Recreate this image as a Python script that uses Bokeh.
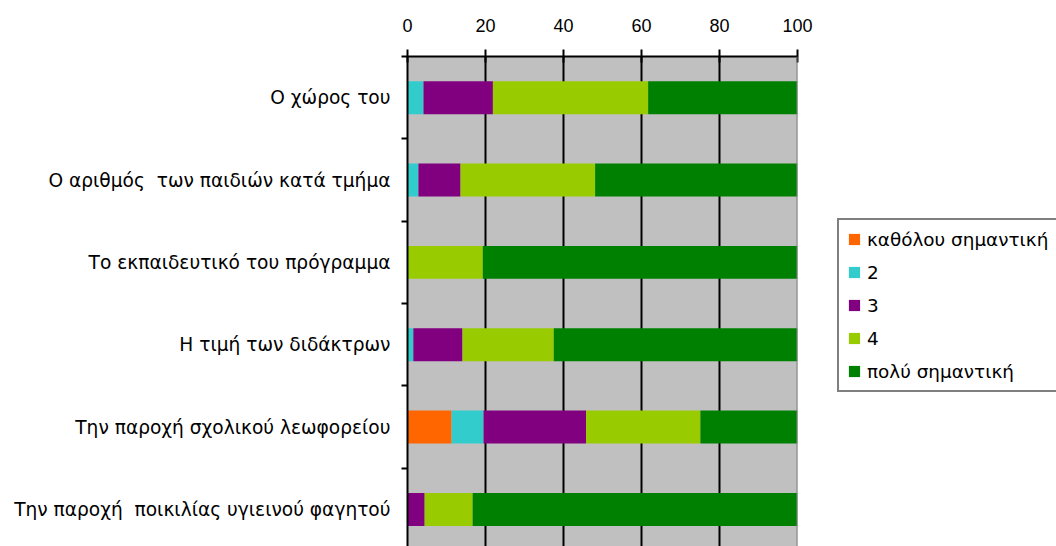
from bokeh.plotting import figure
from bokeh.layouts import row
from bokeh.models import ColumnDataSource, Range1d, FixedTicker, Legend, LegendItem, Span
from bokeh.embed import file_html
from bokeh.resources import INLINE

categories = ["Ο χώρος του",
              "Ο αριθμός \u00a0των παιδιών κατά τμήμα",
              "Το εκπαιδευτικό του πρόγραμμα",
              "Η τιμή των διδάκτρων",
              "Την παροχή σχολικού λεωφορείου",
              "Την παροχή \u00a0ποικιλίας υγιεινού φαγητού"]
series_names = ["καθόλου σημαντική", "2", "3", "4", "πολύ σημαντική"]
s1 = [0, 0, 0, 0, 11.3, 0]
s2 = [4.1, 2.8, 0, 1.5, 8.2, 0]
s3 = [17.8, 10.8, 0, 12.6, 26.3, 4.4]
s4 = [39.8, 34.5, 19.3, 23.4, 29.3, 12.3]
s5 = [38.3, 51.9, 80.7, 62.5, 24.9, 83.3]
x_ticks = [0, 20, 40, 60, 80, 100]
colors = ["#FF6600", "#33CCCC", "#800080", "#99CC00", "#008000"]

NUM_FONT = "Liberation Sans"
TXT_FONT = "DejaVu Sans"
ypos = [i + 0.5 for i in range(len(categories))]
keys = ["s1", "s2", "s3", "s4", "s5"]
source = ColumnDataSource(dict(y=ypos, s1=s1, s2=s2, s3=s3, s4=s4, s5=s5))

p = figure(width=818, height=546, output_backend="svg", toolbar_location=None,
           x_range=Range1d(0, 100), y_range=Range1d(5.95, 0),
           x_axis_location="above",
           min_border_left=407, min_border_right=21, min_border_top=56, min_border_bottom=0)
p.background_fill_color = "#C0C0C0"
p.border_fill_color = "white"
p.outline_line_color = None

renderers = p.hbar_stack(keys, y="y", height=0.4, color=colors, source=source, line_color=None)

# grid
p.xgrid.ticker = FixedTicker(ticks=[20, 40, 60, 80])
p.xgrid.grid_line_color = "black"
p.xgrid.grid_line_width = 2
p.ygrid.grid_line_color = None

p.add_layout(Span(location=100, dimension="height", line_color="#808080", line_width=2))

# x axis (top)
xa = p.xaxis[0]
xa.ticker = FixedTicker(ticks=x_ticks)
xa.axis_line_color = "black"
xa.axis_line_width = 2
xa.major_tick_line_color = "black"
xa.major_tick_line_width = 2
xa.major_tick_out = 7
xa.major_tick_in = 6
xa.minor_tick_line_color = None
xa.major_label_standoff = 18
xa.major_label_text_font = NUM_FONT
xa.major_label_text_font_size = "18px"
xa.major_label_text_color = "black"

# y axis (left)
ya = p.yaxis[0]
ya.ticker = FixedTicker(ticks=ypos, minor_ticks=[float(i) for i in range(len(categories) + 1)])
ya.major_label_overrides = {y: c for y, c in zip(ypos, categories)}
ya.axis_line_color = "black"
ya.axis_line_width = 2
ya.major_tick_line_color = None
ya.major_tick_out = 6
ya.minor_tick_line_color = "black"
ya.minor_tick_line_width = 2
ya.minor_tick_out = 6
ya.minor_tick_in = 0
ya.major_label_standoff = 11
ya.major_label_text_font = TXT_FONT
ya.major_label_text_font_size = "18.6px"
ya.major_label_text_color = "black"

# legend panel (same data, drawn outside its visible range; only the legend shows)
q = figure(width=238, height=546, output_backend="svg", toolbar_location=None,
           x_range=Range1d(0, 100), y_range=Range1d(100, 101),
           min_border_left=0, min_border_right=0, min_border_top=0, min_border_bottom=0)
q.axis.visible = False
q.grid.visible = False
q.outline_line_color = None
q.background_fill_color = "white"
q.border_fill_color = "white"
legend_renderers = q.hbar_stack(keys, y="y", height=0.4, color=colors, source=source, line_color=None)

legend = Legend(items=[LegendItem(label=n, renderers=[r]) for n, r in zip(series_names, legend_renderers)],
                location=(19, 154))
legend.label_text_font = TXT_FONT
legend.label_text_font_size = "18.4px"
legend.label_text_color = "black"
legend.glyph_width = 14
legend.glyph_height = 14
legend.label_height = 22
legend.label_standoff = 6
legend.spacing = 11
legend.padding = 8
legend.margin = 0
legend.border_line_color = "black"
legend.border_line_width = 2
legend.background_fill_color = "white"
legend.background_fill_alpha = 1
q.add_layout(legend, "center")

layout = row(p, q, spacing=0)
open("out.html", "w").write(file_html(layout, INLINE))
